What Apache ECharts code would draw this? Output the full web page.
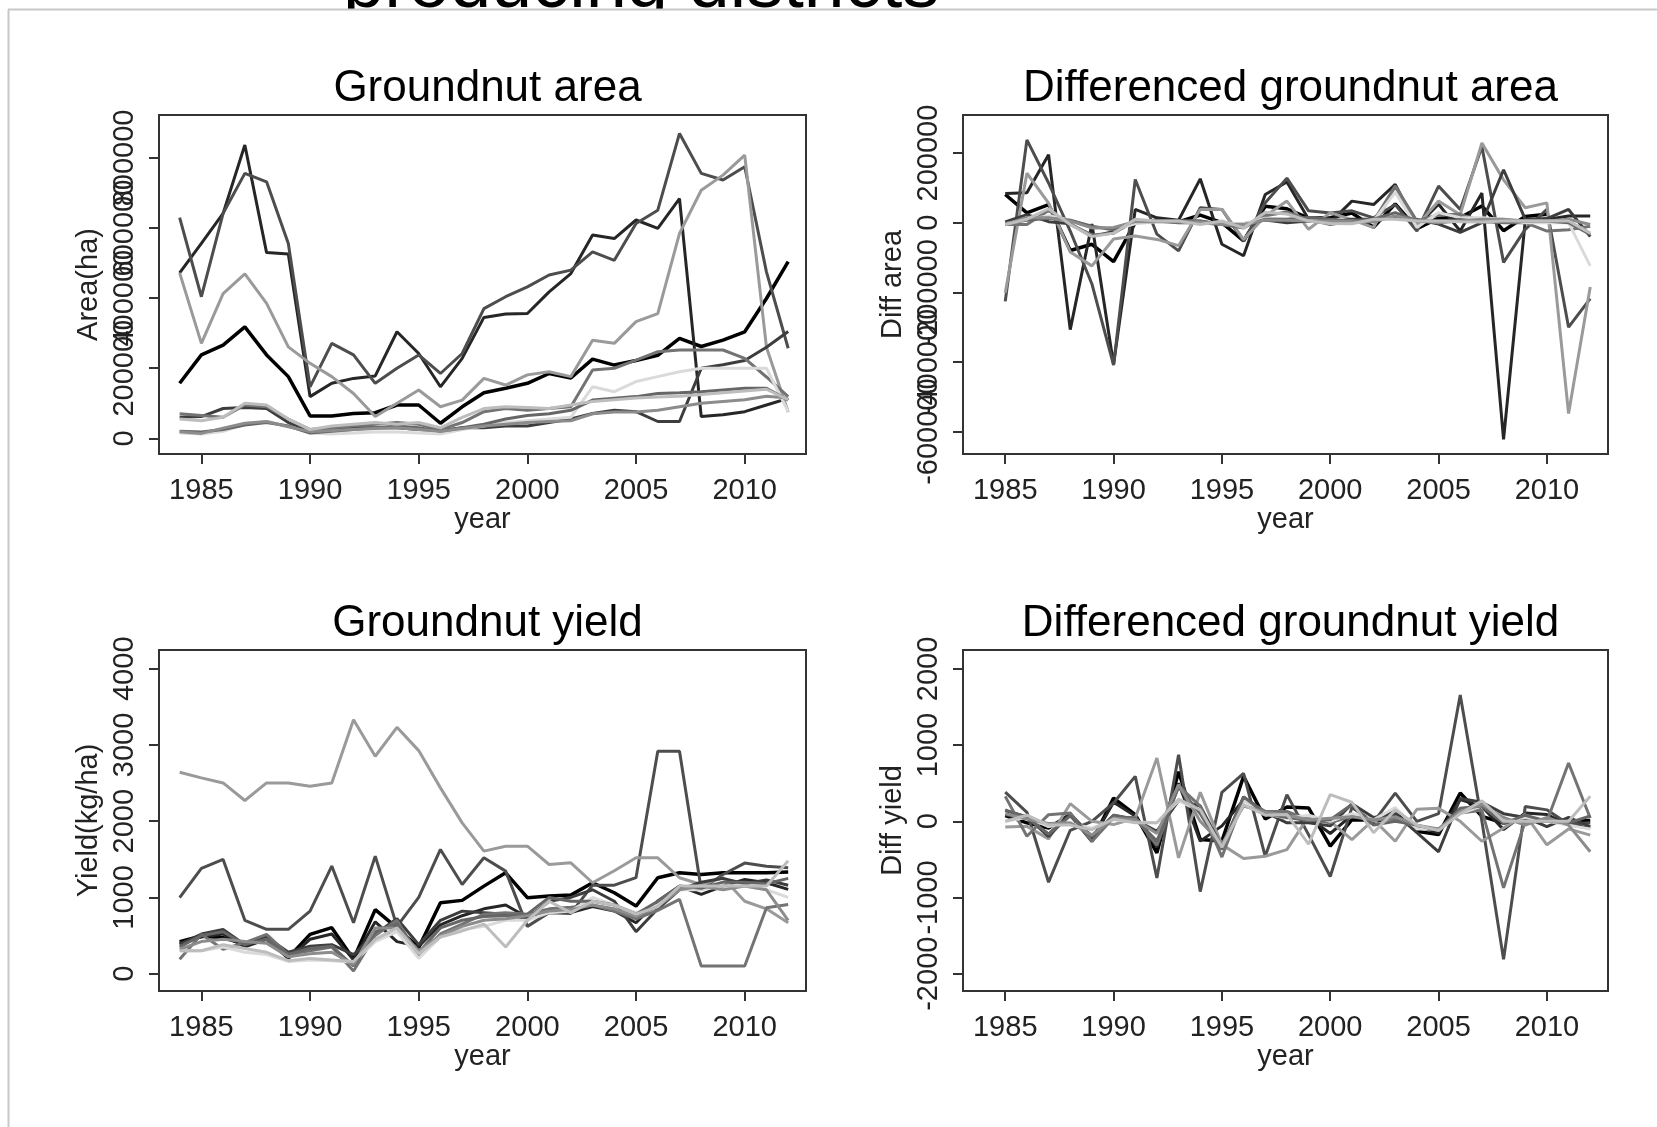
<!DOCTYPE html>
<html>
<head>
<meta charset="utf-8">
<script src="https://cdn.jsdelivr.net/npm/echarts@6/dist/echarts.min.js"></script>
<style>
  html, body { margin: 0; padding: 0; background: #fff; }
  #chart { width: 1657px; height: 1127px; }
</style>
</head>
<body>
<div id="chart"></div>
<script>
// years of the level series and of the differenced series
const years = [1984,1985,1986,1987,1988,1989,1990,1991,1992,1993,1994,1995,1996,1997,1998,1999,2000,2001,2002,2003,2004,2005,2006,2007,2008,2009,2010,2011,2012]
const diffYears = [1985,1986,1987,1988,1989,1990,1991,1992,1993,1994,1995,1996,1997,1998,1999,2000,2001,2002,2003,2004,2005,2006,2007,2008,2009,2010,2011,2012]

// tick labels
const yearTicks = [1985, 1990, 1995, 2000, 2005, 2010]
const areaTicks = [0, 200000, 400000, 600000, 800000]
const diffAreaTicks = [-600000, -400000, -200000, 0, 200000]
const yieldTicks = [0, 1000, 2000, 3000, 4000]
const diffYieldTicks = [-2000, -1000, 0, 1000, 2000]

// groundnut area (ha), one array per district
const areaD1 = [157000,238000,266000,318000,238000,176000,64000,64000,71000,73000,95000,95000,43000,90000,130000,143000,157000,185000,172000,226000,209000,222000,237000,285000,262000,280000,304000,399000,504000]
const areaD2 = [472000,556000,642000,837000,530000,526000,119000,157000,171000,178000,304000,242000,147000,228000,345000,355000,356000,418000,470000,580000,570000,623000,599000,684000,62000,67000,76000,95000,114000]
const areaD3 = [630000,404000,642000,756000,732000,556000,147000,271000,238000,157000,200000,238000,185000,242000,370000,404000,432000,466000,480000,532000,508000,613000,651000,870000,756000,737000,775000,475000,257000]
const areaD4 = [472000,271000,413000,469000,385000,261000,214000,176000,128000,62000,100000,138000,90000,109000,171000,152000,181000,190000,176000,280000,271000,333000,356000,585000,708000,751000,808000,260000,75000]
const areaD5 = [60000,62000,85000,88000,85000,45000,20000,25000,30000,30000,30000,25000,22000,30000,30000,35000,35000,45000,55000,71000,80000,76000,48000,48000,200000,210000,222000,260000,305000]
const areaD6 = [70000,65000,60000,95000,90000,55000,25000,30000,35000,40000,45000,40000,25000,45000,76000,85000,80000,85000,90000,195000,200000,223000,247000,252000,252000,252000,228000,175000,119000]
const areaD7 = [15000,12000,20000,40000,48000,35000,15000,12000,15000,18000,18000,15000,12000,25000,35000,45000,50000,55000,60000,147000,133000,162000,176000,190000,200000,200000,200000,200000,76000]
const areaD8 = [20000,18000,25000,38000,45000,35000,15000,20000,25000,30000,35000,30000,20000,30000,40000,55000,65000,70000,80000,109000,114000,119000,128000,130000,133000,138000,143000,143000,109000]
const areaD9 = [19000,14000,29000,43000,48000,33000,19000,22000,25000,28000,30000,25000,20000,28000,35000,40000,45000,48000,50000,70000,75000,75000,80000,90000,100000,105000,110000,120000,115000]
const areaD10 = [55000,50000,60000,100000,95000,55000,25000,35000,40000,45000,40000,45000,30000,60000,85000,90000,88000,85000,95000,105000,110000,115000,118000,120000,125000,130000,135000,140000,110000]

// differenced area (ha)
const diffAreaD1 = [81000,28000,52000,-80000,-62000,-112000,0,7000,2000,22000,0,-52000,47000,40000,13000,14000,28000,-13000,54000,-17000,13000,15000,48000,-23000,18000,24000,null,null]
const diffAreaD2 = [84000,86000,195000,-307000,-4000,-407000,38000,14000,7000,126000,-62000,-95000,81000,117000,10000,1000,62000,52000,110000,-10000,53000,-24000,85000,-622000,5000,9000,19000,19000]
const diffAreaD3 = [-226000,238000,114000,-24000,-176000,-409000,124000,-33000,-81000,43000,38000,-53000,57000,128000,34000,28000,34000,14000,52000,-24000,105000,38000,219000,-114000,-19000,38000,-300000,-218000]
const diffAreaD4 = [-201000,142000,56000,-84000,-124000,-47000,-38000,-48000,-66000,38000,38000,-48000,19000,62000,-19000,29000,9000,-14000,104000,-9000,62000,23000,229000,123000,43000,57000,-548000,-185000]
const diffAreaD5 = [2000,23000,3000,-3000,-40000,-25000,5000,5000,0,0,-5000,-3000,8000,0,5000,0,10000,10000,16000,9000,-4000,-28000,0,152000,10000,12000,38000,-40000]
const diffAreaD6 = [-5000,-5000,35000,-5000,-35000,-30000,5000,5000,5000,5000,-5000,-15000,20000,31000,9000,-5000,5000,5000,105000,5000,23000,24000,5000,0,0,-24000,-20000,-10000]
const diffAreaD7 = [-3000,8000,20000,8000,-13000,-20000,-3000,3000,3000,0,-3000,-3000,13000,10000,10000,5000,5000,5000,87000,-14000,29000,14000,14000,10000,0,0,0,-124000]
const diffAreaD8 = [-2000,7000,13000,7000,-10000,-20000,5000,5000,5000,5000,-5000,-10000,10000,10000,15000,10000,5000,10000,29000,5000,5000,9000,2000,3000,5000,5000,0,-34000]
const diffAreaD9 = [-5000,15000,14000,5000,-15000,-14000,3000,3000,3000,2000,-5000,-5000,8000,7000,5000,5000,3000,2000,20000,5000,0,5000,10000,10000,5000,5000,10000,-5000]
const diffAreaD10 = [-5000,10000,40000,-5000,-40000,-30000,10000,5000,5000,-5000,5000,-15000,30000,25000,5000,-2000,-3000,10000,10000,5000,5000,3000,2000,5000,5000,5000,5000,-30000]

// groundnut yield (kg/ha)
const yieldD1 = [419,493,472,384,472,210,515,603,190,840,600,341,930,961,1148,1323,996,1017,1030,1192,1061,886,1258,1323,1301,1323,1323,1323,1332]
const yieldD2 = [400,480,520,350,450,200,450,520,180,680,420,360,640,760,850,900,740,820,800,880,821,668,952,1148,1039,1148,1236,1192,1105]
const yieldD3 = [996,1380,1498,699,581,581,821,1411,668,1542,620,1000,1629,1170,1520,1345,620,800,790,1160,1160,1260,2917,2917,1105,1300,1450,1410,1390]
const yieldD4 = [2642,2568,2502,2271,2502,2502,2459,2502,3332,2852,3232,2926,2437,1978,1607,1672,1672,1432,1454,1192,1350,1520,1520,1258,1170,1258,950,850,668]
const yieldD5 = [380,520,580,380,480,280,360,380,250,520,720,380,700,820,800,780,720,950,1000,1100,950,550,850,1100,1200,1250,1180,1230,1160]
const yieldD6 = [188,515,319,406,515,250,300,350,35,500,700,231,520,650,780,800,780,850,870,900,820,720,830,974,100,100,100,865,908]
const yieldD7 = [300,300,350,280,250,160,180,170,150,420,550,200,480,580,620,700,700,800,820,1000,900,800,900,1100,1100,1150,1150,1100,1000]
const yieldD8 = [350,500,550,380,450,250,330,360,100,550,650,280,600,700,750,760,780,1000,950,950,900,780,950,1150,1120,1200,1200,1180,1250]
const yieldD9 = [320,420,450,420,400,220,260,280,120,600,600,300,500,620,700,720,760,820,840,900,850,750,880,1100,1150,1100,1150,1100,700]
const yieldD10 = [300,300,380,330,280,170,200,180,160,450,600,260,480,560,650,350,700,950,800,950,900,780,880,1150,1150,1150,1150,1150,1480]

// differenced yield (kg/ha)
const diffYieldD1 = [74,-21,-88,88,-262,305,88,-413,650,-240,-259,589,31,187,175,-327,21,13,162,-131,-175,372,65,-22,22,0,0,9]
const diffYieldD2 = [80,40,-170,100,-250,250,70,-340,500,-260,-60,280,120,90,50,-160,80,-20,80,-59,-153,284,196,-109,109,88,-44,-87]
const diffYieldD3 = [384,118,-799,-118,0,240,590,-743,874,-922,380,629,-459,350,-175,-725,180,-10,370,0,100,1657,0,-1812,195,150,-40,-20]
const diffYieldD4 = [-74,-66,-231,231,0,-43,43,830,-480,380,-306,-489,-459,-371,65,0,-240,22,-262,158,170,0,-262,-88,88,-308,-100,-182]
const diffYieldD5 = [140,60,-200,100,-200,80,20,-130,270,200,-340,320,120,-20,-20,-60,230,50,100,-150,-400,300,250,100,50,-70,50,-70]
const diffYieldD6 = [327,-196,87,109,-265,50,50,-315,465,200,-469,289,130,130,20,-20,70,20,30,-80,-100,110,144,-874,0,0,765,43]
const diffYieldD7 = [0,50,-70,-30,-90,20,-10,-20,270,130,-350,280,100,40,80,0,100,20,180,-100,-100,100,200,0,50,0,-50,-100]
const diffYieldD8 = [150,50,-170,70,-200,80,30,-260,450,100,-370,320,100,50,10,20,220,-50,0,-50,-120,170,200,-30,80,0,-20,70]
const diffYieldD9 = [100,30,-30,-20,-180,40,20,-160,480,0,-300,200,120,80,20,40,60,20,60,-50,-100,130,220,50,-50,50,-50,-400]
const diffYieldD10 = [0,80,-50,-50,-110,30,-20,-20,290,150,-340,220,80,90,-300,350,250,-150,150,-50,-120,100,270,0,0,0,0,330]

const lineColors = ['#000000', '#262626', '#4d4d4d', '#9a9a9a', '#3d3d3d', '#737373', '#dadada', '#666666', '#8c8c8c', '#bdbdbd']

const font = '"Liberation Sans", Arial, sans-serif'

const panels = [
  {
    title: 'Groundnut area', yName: 'Area(ha)', x: years, ticks: areaTicks, yMin: -44760, yMax: 922600,
    grid: { left: 159, top: 115, width: 647, height: 339 },
    data: [areaD1, areaD2, areaD3, areaD4, areaD5, areaD6, areaD7, areaD8, areaD9, areaD10]
  },
  {
    title: 'Differenced groundnut area', yName: 'Diff area', x: diffYears, ticks: diffAreaTicks, yMin: -664300, yMax: 309300,
    grid: { left: 963, top: 115, width: 645, height: 339 },
    data: [diffAreaD1, diffAreaD2, diffAreaD3, diffAreaD4, diffAreaD5, diffAreaD6, diffAreaD7, diffAreaD8, diffAreaD9, diffAreaD10]
  },
  {
    title: 'Groundnut yield', yName: 'Yield(kg/ha)', x: years, ticks: yieldTicks, yMin: -228, yMax: 4246,
    grid: { left: 159, top: 650, width: 647, height: 341 },
    data: [yieldD1, yieldD2, yieldD3, yieldD4, yieldD5, yieldD6, yieldD7, yieldD8, yieldD9, yieldD10]
  },
  {
    title: 'Differenced groundnut yield', yName: 'Diff yield', x: diffYears, ticks: diffYieldTicks, yMin: -2227, yMax: 2248,
    grid: { left: 963, top: 650, width: 645, height: 341 },
    data: [diffYieldD1, diffYieldD2, diffYieldD3, diffYieldD4, diffYieldD5, diffYieldD6, diffYieldD7, diffYieldD8, diffYieldD9, diffYieldD10]
  }
]

const chart = echarts.init(document.getElementById('chart'), null, { renderer: 'canvas' })

const labelStyle = { fontSize: 29, fontFamily: font, color: '#222' }
const tickStyle = { color: '#333', width: 2 }

// R lets neighbouring y labels overlap; echarts hides one of them,
// so every other label goes on a second (invisible) axis on the same side
const mainY = panels.map((p, i) => ({
  type: 'value', gridIndex: i, min: p.yMin, max: p.yMax, position: 'left',
  axisLine: { show: true, onZero: false, lineStyle: tickStyle },
  axisTick: { show: true, customValues: p.ticks, length: 10, lineStyle: tickStyle },
  axisLabel: { customValues: p.ticks.filter((t, j) => j % 2 === 0), formatter: v => String(v), rotate: 90, margin: 20, showMinLabel: true, showMaxLabel: true, ...labelStyle },
  splitLine: { show: false },
  name: p.yName, nameLocation: 'middle', nameRotate: 90, nameGap: 56, nameMoveOverlap: false,
  nameTextStyle: labelStyle
}))
const altY = panels.map((p, i) => ({
  type: 'value', gridIndex: i, min: p.yMin, max: p.yMax, position: 'left', offset: 0,
  axisLine: { show: false, onZero: false },
  axisTick: { show: false },
  axisLabel: { customValues: p.ticks.filter((t, j) => j % 2 === 1), formatter: v => String(v), rotate: 90, margin: 20, showMinLabel: true, showMaxLabel: true, ...labelStyle },
  splitLine: { show: false }
}))

const option = {
  animation: false,
  backgroundColor: '#fff',
  title: panels.map(p => ({
    text: p.title,
    left: p.grid.left + p.grid.width / 2,
    top: p.grid.top - 53,
    textAlign: 'center',
    textStyle: { fontSize: 44, fontWeight: 'normal', fontFamily: font, color: '#000' }
  })),
  grid: panels.map(p => ({
    left: p.grid.left, top: p.grid.top, width: p.grid.width, height: p.grid.height,
    show: true, borderColor: '#333', borderWidth: 2, backgroundColor: 'transparent'
  })),
  xAxis: panels.map((p, i) => ({
    type: 'value', gridIndex: i, min: 1983.05, max: 2012.82,
    axisLine: { show: true, onZero: false, lineStyle: tickStyle },
    axisTick: { show: true, customValues: yearTicks, length: 10, lineStyle: tickStyle },
    axisLabel: { customValues: yearTicks, formatter: v => String(v), margin: 22, showMinLabel: true, showMaxLabel: true, ...labelStyle },
    splitLine: { show: false },
    name: 'year', nameLocation: 'middle', nameGap: 43,
    nameTextStyle: labelStyle
  })),
  yAxis: mainY.concat(altY),
  series: panels.flatMap((p, i) => p.data.map((vals, k) => ({
    type: 'line',
    xAxisIndex: i, yAxisIndex: i,
    data: vals.map((v, j) => [p.x[j], v]),
    showSymbol: false,
    silent: true,
    lineStyle: { color: lineColors[k], width: k === 0 ? 3.5 : 3 },
    itemStyle: { color: lineColors[k] }
  }))),
  graphic: [
    {
      type: 'text', x: 343, y: 24, z: 1,
      style: { text: 'producing districts', font: '74px ' + font, fill: '#000', textVerticalAlign: 'bottom', verticalAlign: 'bottom' }
    },
    { type: 'rect', z: 2, shape: { x: 300, y: 10, width: 700, height: 30 }, style: { fill: '#fff' } },
    { type: 'line', z: 3, shape: { x1: 8, y1: 9.5, x2: 1657, y2: 9.5 }, style: { stroke: '#c8c8c8', lineWidth: 2 } },
    { type: 'line', z: 3, shape: { x1: 8.5, y1: 9.5, x2: 8.5, y2: 1127 }, style: { stroke: '#c8c8c8', lineWidth: 2 } }
  ]
}

chart.setOption(option)
</script>
</body>
</html>
